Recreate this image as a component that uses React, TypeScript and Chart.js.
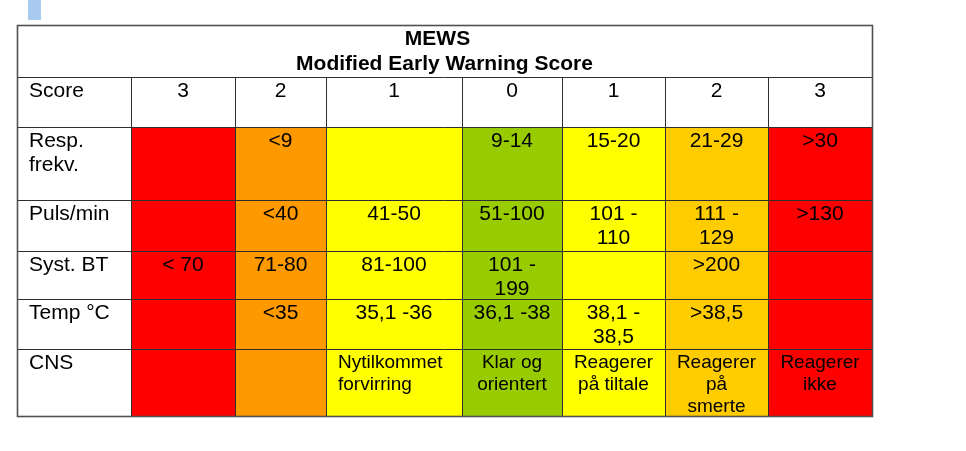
import React, { useEffect, useRef } from "react";
import { Chart, registerables } from "chart.js";

Chart.register(...registerables);

// ---- content ----
const titleLines = ["MEWS", "Modified Early Warning Score"];
const rowLabels = ["Score", "Resp.\nfrekv.", "Puls/min", "Syst. BT", "Temp °C", "CNS"];
const scoreHeaders = ["3", "2", "1", "0", "1", "2", "3"];
const respValues = ["", "<9", "", "9-14", "15-20", "21-29", ">30"];
const pulsValues = ["", "<40", "41-50", "51-100", "101 -\n110", "111 -\n129", ">130"];
const systValues = ["< 70", "71-80", "81-100", "101 -\n199", "", ">200", ""];
const tempValues = ["", "<35", "35,1 -36", "36,1 -38", "38,1 -\n38,5", ">38,5", ""];
const cnsValues = ["", "", "Nytilkommet\nforvirring", "Klar og\norientert", "Reagerer\npå tiltale", "Reagerer\npå\nsmerte", "Reagerer\nikke"];
const scoreColors = ["#ff0000", "#ff9900", "#ffff00", "#99cc00", "#ffff00", "#ffcc00", "#ff0000"];

// ---- layout (in scale units, 1 unit = 1 px) ----
const colEdges = [17, 131, 235, 326, 462, 562, 665, 768, 872];
const rowEdges = [25, 77, 127, 200, 251, 299, 349, 416];
const FONT = '"Liberation Sans", Arial, Helvetica, sans-serif';

const tablePlugin = {
  id: "mewsTable",
  afterDraw(chart: any) {
    const { ctx } = chart;
    const xs = chart.scales.x;
    const ys = chart.scales.y;
    const X = (v: number) => xs.getPixelForValue(v);
    const Y = (v: number) => ys.getPixelForValue(v);

    const rows = [scoreHeaders, respValues, pulsValues, systValues, tempValues, cnsValues];

    ctx.save();
    // small blue marker at top
    ctx.fillStyle = "#a9cbef";
    ctx.fillRect(X(28), Y(0), X(41) - X(28), Y(20) - Y(0));

    // table background
    const L = X(colEdges[0]);
    const R = X(colEdges[colEdges.length - 1]);
    const T = Y(rowEdges[0]);
    const B = Y(rowEdges[rowEdges.length - 1]);
    ctx.fillStyle = "#ffffff";
    ctx.fillRect(L, T, R - L, B - T);

    // cell fills
    rows.forEach((vals, r) => {
      if (r === 0) return;
      const top = Y(rowEdges[r + 1]);
      const bot = Y(rowEdges[r + 2]);
      vals.forEach((_, c) => {
        const x0 = X(colEdges[c + 1]);
        const x1 = X(colEdges[c + 2]);
        ctx.fillStyle = scoreColors[c];
        ctx.fillRect(x0, top, x1 - x0, bot - top);
      });
    });

    // grid lines
    ctx.strokeStyle = "#2e2e2e";
    ctx.lineWidth = 1;
    ctx.beginPath();
    for (let i = 1; i < rowEdges.length - 1; i++) {
      const y = Math.round(Y(rowEdges[i])) + 0.5;
      ctx.moveTo(L, y);
      ctx.lineTo(R, y);
    }
    for (let i = 1; i < colEdges.length - 1; i++) {
      const x = Math.round(X(colEdges[i])) + 0.5;
      ctx.moveTo(x, Y(rowEdges[1]));
      ctx.lineTo(x, B);
    }
    ctx.stroke();
    // outer border
    ctx.strokeStyle = "#505050";
    ctx.lineWidth = 1.6;
    ctx.strokeRect(Math.round(L) + 0.5, Math.round(T) + 0.5, Math.round(R - L), Math.round(B - T));

    // title
    ctx.fillStyle = "#000";
    ctx.textAlign = "center";
    ctx.textBaseline = "alphabetic";
    ctx.font = `bold 21px ${FONT}`;
    const cx = (L + R) / 2;
    ctx.fillText(titleLines[0], cx - 7, T + 20);
    ctx.fillText(titleLines[1], cx, T + 45);

    // row labels
    ctx.textAlign = "left";
    ctx.font = `21px ${FONT}`;
    rowLabels.forEach((lab, r) => {
      const top = Y(rowEdges[r + 1]);
      lab.split("\n").forEach((line, i) => {
        ctx.fillText(line, X(colEdges[0]) + 12, top + 20 + i * 23.5);
      });
    });

    // cell texts
    rows.forEach((vals, r) => {
      const top = Y(rowEdges[r + 1]);
      const isCns = r === rows.length - 1;
      ctx.font = isCns ? `19px ${FONT}` : `21px ${FONT}`;
      const lh = isCns ? 22 : 23.5;
      const off = isCns ? 18.5 : 20;
      vals.forEach((txt, c) => {
        if (!txt) return;
        const x0 = X(colEdges[c + 1]);
        const x1 = X(colEdges[c + 2]);
        const leftAlign = isCns && c === 2;
        ctx.textAlign = leftAlign ? "left" : "center";
        const tx = leftAlign ? x0 + 12 : (x0 + x1) / 2;
        txt.split("\n").forEach((line, i) => {
          ctx.fillText(line, tx, top + off + i * lh);
        });
      });
    });
    ctx.restore();
  },
};

export default function App() {
  const ref = useRef<HTMLCanvasElement>(null);
  useEffect(() => {
    if (!ref.current) return;
    const chart = new Chart(ref.current, {
      type: "scatter",
      data: { datasets: [{ data: [] }] },
      options: {
        animation: false,
        responsive: false,
        layout: { padding: 0 },
        plugins: { legend: { display: false }, tooltip: { enabled: false } },
        scales: {
          x: { type: "linear", min: 0, max: 966, display: false },
          y: { type: "linear", min: 0, max: 451, reverse: true, display: false },
        },
      },
      plugins: [tablePlugin],
    } as any);
    return () => chart.destroy();
  }, []);
  return (
    <div style={{ position: "fixed", left: 0, top: 0, width: 966, height: 451, background: "#fff" }}>
      <canvas ref={ref} width={966} height={451} style={{ display: "block" }} />
    </div>
  );
}
